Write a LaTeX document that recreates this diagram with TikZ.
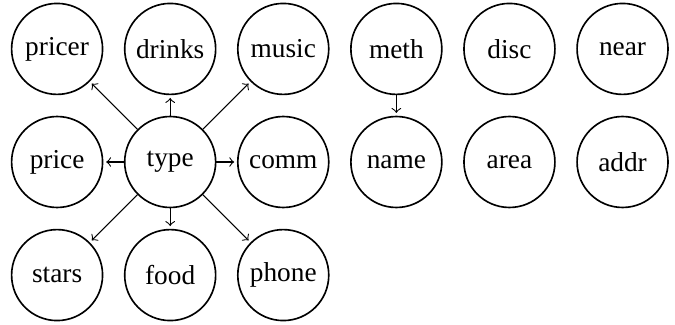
\documentclass[tikz,border=0pt]{standalone}
\usepackage{fontspec}
\setmainfont{Liberation Serif}
\usetikzlibrary{arrows}
\usetikzlibrary{positioning}
\tikzset{
    field/.style={
           circle,
           draw=black, semithick,
           minimum size=33.3pt,
           inner sep=1pt,
           text centered,
           },
}

\begin{document}
\begin{tikzpicture}[->, thin, >=to, shorten >=1pt, node distance=41.4pt]

 % fix the margins of the page
 \useasboundingbox (-20.9pt,17.9pt) rectangle (226.2pt,-101pt);

 % top row
 \node[field] (pricer) {pricer};
 \node[field, right of=pricer] (drinks) {drinks};
 \node[field, right of=drinks] (music) {music};
 \node[field, right of=music] (meth) {meth};
 \node[field, right of=meth] (disc) {disc};
 \node[field, right of=disc] (near) {near};

 % middle row, type in the centre of the left block
 \node[field, below of=pricer] (price) {price};
 \node[field, right of=price] (type) {type};
 \node[field, right of=type] (comm) {comm};
 \node[field, right of=comm] (name) {name};
 \node[field, right of=name] (area) {area};
 \node[field, right of=area] (addr) {addr};

 % bottom row
 \node[field, below of=price] (stars) {stars};
 \node[field, right of=stars] (food) {food};
 \node[field, right of=food] (phone) {phone};

 \path
	 (type)	edge (pricer)
	 (type)	edge (drinks)
	 (type)	edge (music)
	 (type)	edge (price)
	 (type)	edge (comm)
	 (type)	edge (stars)
	 (type)	edge (food)
	 (type)	edge (phone)
	 (meth)	edge (name);
\end{tikzpicture}
\end{document}
